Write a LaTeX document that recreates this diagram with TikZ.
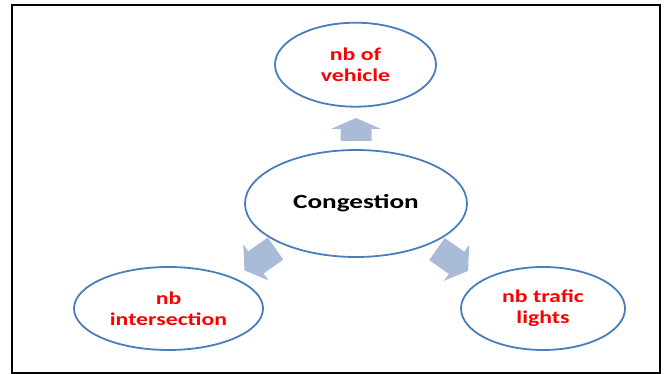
\documentclass[tikz,border=0pt]{standalone}
\usepackage{fontspec}
\setmainfont{Carlito}
\usepackage{graphicx}
\usetikzlibrary{shapes.geometric}
\definecolor{ellblue}{RGB}{74,126,187}
\definecolor{arrblue}{RGB}{170,187,215}
\definecolor{txtred}{RGB}{255,0,0}
\newcommand\wx[1]{\scalebox{1.32}[1]{#1}}
\newcommand\wxc[1]{\scalebox{1.36}[1]{#1}}
% #1 centre coordinate name, #2 angle, #3 length, #4 shaft width, #5 head width, #6 head length
\newcommand\blockarr[6]{%
  \fill[arrblue, shift={(#1)}, rotate=#2]
    ({-#3/2},{-#4/2}) -- ({#3/2-#6},{-#4/2}) -- ({#3/2-#6},{-#5/2}) --
    ({#3/2},0) -- ({#3/2-#6},{#5/2}) -- ({#3/2-#6},{#4/2}) --
    ({-#3/2},{#4/2}) -- cycle;}
\tikzset{
  ell/.style={ellipse, draw=ellblue, line width=1.8pt, inner sep=0pt, align=center,
    text=txtred, font=\fontsize{18}{21}\selectfont\bfseries},
  frame/.style={draw=black, line width=2pt}
}
\begin{document}
\begin{tikzpicture}[x=1pt,y=1pt]
\useasboundingbox (0,0) rectangle (666,374);
\draw[frame] (12,1) rectangle (660,369);
\node[ell, minimum width=161pt, minimum height=84pt] (veh) at (355.5,309.3) {\wx{nb of}\\\wx{vehicle}};
\node[ell, minimum width=222pt, minimum height=107pt, text=black, font=\fontsize{20}{22}\selectfont\bfseries] (cong) at (356,170.5) {\wxc{Congestion}};
\node[ell, minimum width=189pt, minimum height=83pt] (inter) at (168.5,65.5) {\wx{nb}\\\wx{intersection}};
\node[ell, minimum width=164pt, minimum height=83pt] (lights) at (543,65.5) {\wx{nb trafic}\\\wx{lights}};
\coordinate (aup) at (356,244.5);
\coordinate (aleft) at (260,114.5);
\coordinate (aright) at (452.5,114);
\blockarr{aup}{90}{23}{31}{50}{11}
\blockarr{aleft}{215}{38}{27}{44}{14}
\blockarr{aright}{-35}{38}{27}{44}{14}
\end{tikzpicture}
\end{document}
